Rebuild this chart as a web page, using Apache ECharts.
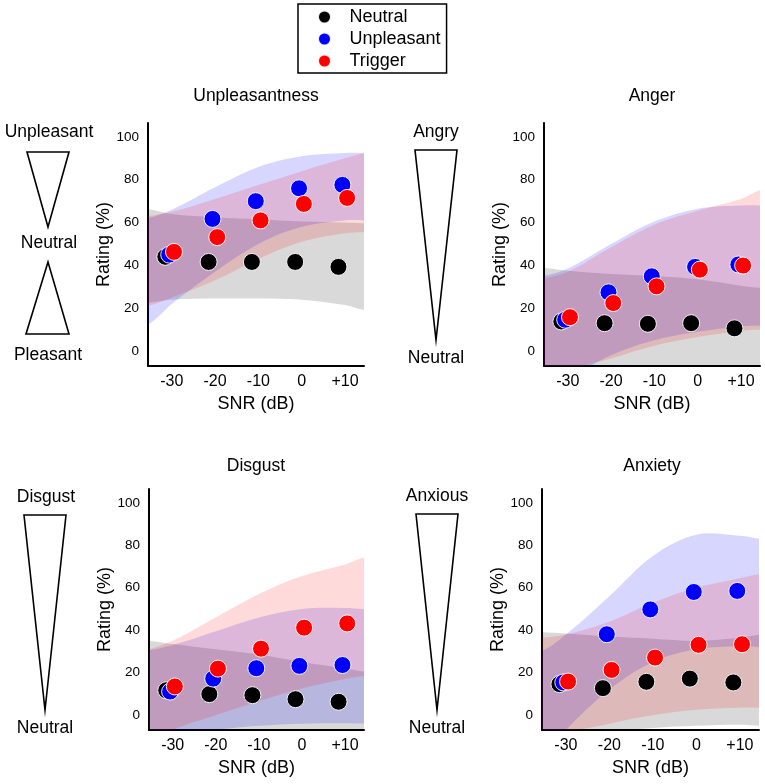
<!DOCTYPE html>
<html><head><meta charset="utf-8">
<script src="https://cdn.jsdelivr.net/npm/echarts@6/dist/echarts.min.js"></script>
<style>html,body{margin:0;padding:0;background:#fff}#c{width:765px;height:784px}</style>
</head><body><div id="c"></div>
<script>
const FONT = "'Liberation Sans', Arial, Helvetica, sans-serif";

// ---- shared axis values ----
const snrTicks = [-30, -20, -10, 0, 10];
const ratingTicks = [0, 20, 40, 60, 80, 100];
const bandSnr = [-36, -30, -20, -10, 0, 10, 15];
const seriesNames = ['Neutral', 'Unpleasant', 'Trigger'];
const panelTitles = ['Unpleasantness', 'Anger', 'Disgust', 'Anxiety'];

// ---- Unpleasantness ----
const unpNeutral = [44, 41.6, 41.6, 41.6, 39.3];
const unpUnpleasant = [45, 61.7, 70, 76, 77.6];
const unpTrigger = [46.3, 53.2, 61, 68.7, 71.5];
const unpNeutralUpper = [66.5, 64, 62.5, 61.5, 60.5, 60, 59.7];
const unpNeutralLower = [22.5, 24, 24.5, 24.5, 24, 21.5, 19];
const unpUnpleasantUpper = [62, 66, 76.5, 86, 91, 92.5, 92.5];
const unpUnpleasantLower = [12, 22, 37, 50, 58, 61, 61];
const unpTriggerUpper = [63, 65, 71, 77.5, 84, 90, 92.5];
const unpTriggerLower = [21, 25, 33, 43, 51, 55, 55.5];

// ---- Anger ----
const angNeutral = [13.8, 13, 12.7, 13, 10.6];
const angUnpleasant = [14.6, 27.4, 34.9, 39.3, 40.4];
const angTrigger = [15.8, 22.4, 30.2, 38, 39.9];
const angNeutralUpper = [39, 37.5, 36, 35, 33.5, 30.5, 29.5];
const angNeutralLower = [-15, -14, -13, -12, -11, -10, -10];
const angUnpleasantUpper = [35, 38.5, 50, 60.5, 66.5, 68, 68];
const angUnpleasantLower = [-20, -13, -2, 5, 9, 11.5, 12];
const angTriggerUpper = [34, 37, 48.5, 59, 65.5, 71, 75.5];
const angTriggerLower = [-22, -10, -3.5, 2.5, 6.5, 9.5, 10];

// ---- Disgust ----
const disNeutral = [11.7, 9.9, 9.4, 7.5, 6.3];
const disUnpleasant = [11.1, 17.2, 22.1, 23.2, 23.6];
const disTrigger = [13.5, 21.9, 31.3, 41.2, 43.2];
const disNeutralUpper = [35, 33.5, 31, 28.5, 25, 22, 20.5];
const disNeutralLower = [-14, -13, -12, -11, -10, -10, -10];
const disUnpleasantUpper = [30.5, 33, 39.5, 46, 50, 50.5, 50];
const disUnpleasantLower = [-14, -10, -7, -5, -4, -3.8, -4];
const disTriggerUpper = [31, 35, 46, 57, 65.5, 71, 74.5];
const disTriggerLower = [-15, -7, 0, 6.5, 12.5, 17, 18.5];

// ---- Anxiety ----
const anxNeutral = [14.6, 12.7, 15.7, 17.2, 15.4];
const anxUnpleasant = [15.4, 38.1, 49.8, 58, 58.5];
const anxTrigger = [15.8, 21.3, 27.1, 33.1, 33.4];
const anxNeutralUpper = [39, 38.5, 37, 36, 35, 36.5, 38];
const anxNeutralLower = [-15, -11, -8, -6, -5, -4.5, -5];
const anxUnpleasantUpper = [30, 38, 56, 75, 85, 84.5, 83];
const anxUnpleasantLower = [-22, -7, 12, 25, 31, 32.5, 32];
const anxTriggerUpper = [36.5, 38, 44, 53, 60, 64.5, 66.5];
const anxTriggerLower = [-25, -10, -4, 0, 2.5, 3.5, 3.5];

// ---- layout / style ----
const grids = [
  {left: 148, top: 123, width: 216, height: 243},
  {left: 544, top: 123, width: 216, height: 243},
  {left: 149, top: 489, width: 215, height: 241},
  {left: 542, top: 489, width: 217, height: 241}
];
const pointColors = ['#000000', '#0000ff', '#ff0000'];
const bandColors = ['rgba(0,0,0,0.15)', 'rgba(0,0,255,0.16)', 'rgba(255,0,0,0.145)'];
const jitter = [-1.5, -0.6, 0.5];

const panelPoints = [
  [unpNeutral, unpUnpleasant, unpTrigger],
  [angNeutral, angUnpleasant, angTrigger],
  [disNeutral, disUnpleasant, disTrigger],
  [anxNeutral, anxUnpleasant, anxTrigger]
];
const panelBands = [
  [[unpNeutralUpper, unpNeutralLower], [unpUnpleasantUpper, unpUnpleasantLower], [unpTriggerUpper, unpTriggerLower]],
  [[angNeutralUpper, angNeutralLower], [angUnpleasantUpper, angUnpleasantLower], [angTriggerUpper, angTriggerLower]],
  [[disNeutralUpper, disNeutralLower], [disUnpleasantUpper, disUnpleasantLower], [disTriggerUpper, disTriggerLower]],
  [[anxNeutralUpper, anxNeutralLower], [anxUnpleasantUpper, anxUnpleasantLower], [anxTriggerUpper, anxTriggerLower]]
];

function bandSeries(gi, upper, lower, color) {
  return {
    type: 'custom', name: 'band', xAxisIndex: gi, yAxisIndex: gi,
    silent: true, clip: true, z: 1, legendHoverLink: false,
    data: [[0, 50]],
    renderItem: function (params, api) {
      const up = bandSnr.map((x, i) => api.coord([x, upper[i]]));
      const lo = bandSnr.map((x, i) => api.coord([x, lower[i]]));
      const n = up.length;
      const sh = (p, dx) => [p[0] + dx, p[1]];
      const pts = [sh(up[0], -60), sh(up[0], -30)]
        .concat(up)
        .concat([sh(up[n - 1], 30), sh(up[n - 1], 60), sh(lo[n - 1], 60), sh(lo[n - 1], 30)])
        .concat(lo.slice().reverse())
        .concat([sh(lo[0], -30), sh(lo[0], -60)]);
      return {type: 'polygon', shape: {points: pts, smooth: 0.35}, style: {fill: color}, silent: true};
    }
  };
}

const xAxes = [], yAxes = [], series = [];
grids.forEach((g, gi) => {
  xAxes.push({
    gridIndex: gi, type: 'value', min: -35.5, max: 14.4,
    name: 'SNR (dB)', nameLocation: 'middle', nameGap: 29,
    nameTextStyle: {fontSize: 18, color: '#000', fontFamily: FONT},
    axisLine: {show: true, onZero: false, lineStyle: {color: '#000', width: 2}},
    axisTick: {show: false}, splitLine: {show: false},
    axisLabel: {customValues: snrTicks, formatter: v => (v > 0 ? '+' + v : String(v)),
      fontSize: 16, color: '#000', margin: 8, fontFamily: FONT}
  });
  yAxes.push({
    gridIndex: gi, type: 'value', min: -7, max: 106.5,
    name: 'Rating (%)', nameLocation: 'middle', nameGap: 35,
    nameTextStyle: {fontSize: 18, color: '#000', fontFamily: FONT},
    axisLine: {show: true, onZero: false, lineStyle: {color: '#000', width: 2}},
    axisTick: {show: false}, splitLine: {show: false},
    axisLabel: {customValues: ratingTicks, fontSize: 13.5, color: '#000', margin: 9, fontFamily: FONT}
  });
  panelBands[gi].forEach((b, k) => series.push(bandSeries(gi, b[0], b[1], bandColors[k])));
  panelPoints[gi].forEach((vals, k) => series.push({
    type: 'scatter', name: seriesNames[k], xAxisIndex: gi, yAxisIndex: gi, z: 3 + k,
    symbol: 'circle', symbolSize: 17,
    itemStyle: {color: pointColors[k], borderColor: 'rgba(255,255,255,0.9)', borderWidth: 1, opacity: 1},
    data: vals.map((v, i) => [snrTicks[i] + jitter[k], v])
  }));
});

// ---- decorative text + scale triangles ----
function txt(s, x, y, size) {
  return {type: 'text', style: {text: s, x: x, y: y, align: 'center', verticalAlign: 'middle',
    fontSize: size || 17.5, fontFamily: FONT, fill: '#000'}};
}
function tri(p) {
  return {type: 'polygon', shape: {points: p}, style: {fill: 'none', stroke: '#000', lineWidth: 1.6}};
}
const titleCenters = [[256, 96], [652, 96], [256, 466], [652, 466]];
const graphic = [];
panelTitles.forEach((t, i) => graphic.push(txt(t, titleCenters[i][0], titleCenters[i][1], 17.5)));
graphic.push(
  txt('Unpleasant', 49, 132), tri([[27, 152], [69, 152], [48, 227]]), txt('Neutral', 49, 243),
  tri([[48, 262], [26, 334], [69, 334]]), txt('Pleasant', 48, 355),
  txt('Angry', 436, 132), tri([[415, 150], [457, 150], [436, 340]]), txt('Neutral', 436, 358),
  txt('Disgust', 46, 497), tri([[24, 515], [66, 515], [45, 710]]), txt('Neutral', 45, 728),
  txt('Anxious', 437, 496), tri([[416, 514], [458, 514], [437, 710]]), txt('Neutral', 437, 728)
);

const chart = echarts.init(document.getElementById('c'), null, {renderer: 'canvas'});
chart.setOption({
  animation: false,
  backgroundColor: '#fff',
  legend: {
    data: seriesNames, orient: 'vertical', left: 298, top: 4,
    padding: [4, 6, 3, 19], borderColor: '#000', borderWidth: 1.5, borderRadius: 0,
    icon: 'circle', itemWidth: 40, itemHeight: 13, itemGap: 4,
    textStyle: {fontSize: 18, lineHeight: 18, color: '#000', fontFamily: FONT},
    selectedMode: false
  },
  grid: grids.map(g => Object.assign({containLabel: false}, g)),
  xAxis: xAxes, yAxis: yAxes, series: series, graphic: graphic
});
</script></body></html>
